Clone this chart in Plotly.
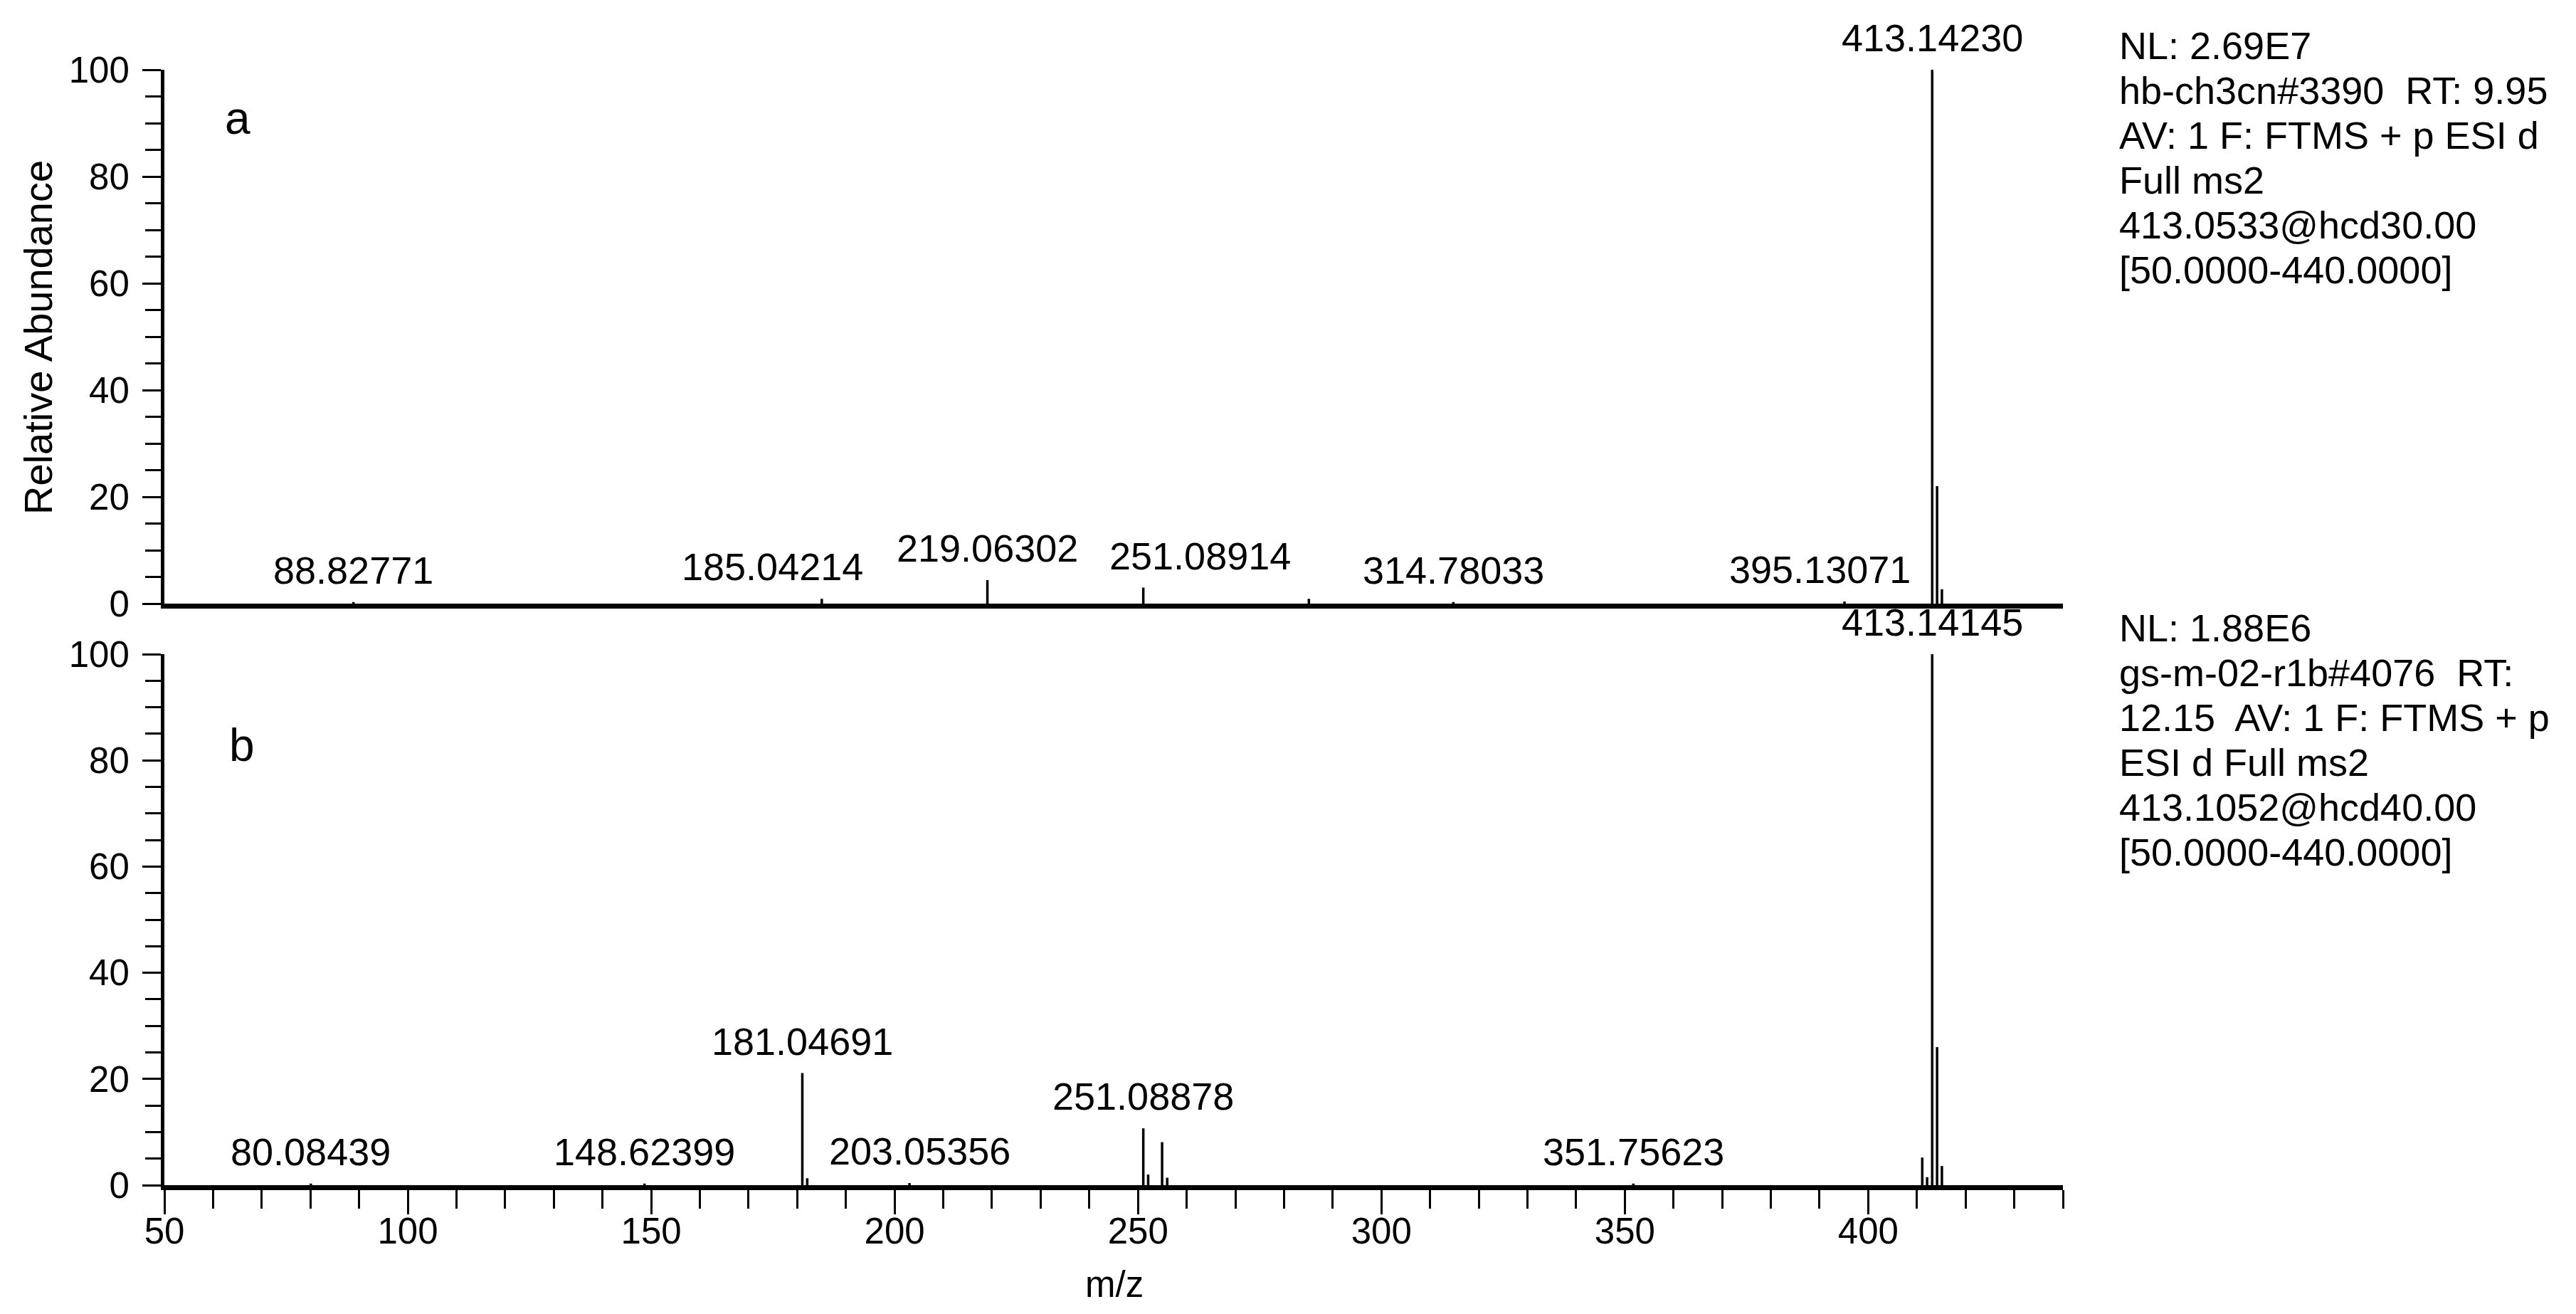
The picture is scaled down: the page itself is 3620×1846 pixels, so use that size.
import plotly.graph_objects as go

# ---------------- data ----------------
# Panel a (hb-ch3cn#3390)
mz_a = [88.82771, 185.04214, 219.06302, 251.08914, 285.10, 314.78033, 395.13071, 413.14230, 414.145, 415.14]
int_a = [0.3, 0.9, 4.4, 3.0, 0.9, 0.3, 0.4, 100.0, 22.0, 2.7]
lab_a = [88.82771, 185.04214, 219.06302, 251.08914, 314.78033, 395.13071, 413.14230]

# Panel b (gs-m-02-r1b#4076)
mz_b = [80.08439, 148.62399, 181.04691, 182.05, 203.05356, 251.08878, 252.09, 254.95, 256.0,
        351.75623, 411.10, 412.10, 413.14145, 414.145, 415.14]
int_b = [0.3, 0.3, 21.1, 1.3, 0.4, 10.7, 2.0, 8.1, 1.4, 0.3, 5.2, 1.5, 100.0, 26.0, 3.6]
lab_b = [80.08439, 148.62399, 181.04691, 203.05356, 251.08878, 351.75623, 413.14145]

info_a = ["NL: 2.69E7", "hb-ch3cn#3390  RT: 9.95", "AV: 1 F: FTMS + p ESI d", "Full ms2",
          "413.0533@hcd30.00", "[50.0000-440.0000]"]
info_b = ["NL: 1.88E6", "gs-m-02-r1b#4076  RT:", "12.15  AV: 1 F: FTMS + p", "ESI d Full ms2",
          "413.1052@hcd40.00", "[50.0000-440.0000]"]

x_ticks = [50, 100, 150, 200, 250, 300, 350, 400]
y_ticks = [0, 20, 40, 60, 80, 100]

# ---------------- style ----------------
FONT = "Liberation Sans, Arial, sans-serif"
W, H = 3620, 1846
L, R, T, B = 223, 729, 90, 189
PW = W - L - R
PH = H - T - B
YB = H - B  # pixel row of the bottom axis
# label horizontal offsets in px (label placement, not data)
label_xshift = {185.04214: -69, 251.08914: 80, 395.13071: -35, 203.05356: 14}


def stems(mz, inten):
    xs, ys = [], []
    for m, h in zip(mz, inten):
        xs += [m, m, None]
        ys += [0, h, None]
    return xs, ys


fig = go.Figure()
xa, ya = stems(mz_a, int_a)
xb, yb = stems(mz_b, int_b)
fig.add_trace(go.Scatter(x=xa, y=ya, mode="lines", xaxis="x2", yaxis="y2",
                         line=dict(color="black", width=3.5), hoverinfo="skip"))
fig.add_trace(go.Scatter(x=xb, y=yb, mode="lines", xaxis="x", yaxis="y",
                         line=dict(color="black", width=3.5), hoverinfo="skip"))

y_common = dict(range=[0, 100], tickmode="array", tickvals=y_ticks,
                showline=True, linewidth=5, linecolor="black",
                ticks="outside", ticklen=26, tickwidth=3, tickcolor="black",
                minor=dict(dtick=5, tick0=0, ticks="outside", ticklen=22, tickwidth=3,
                           tickcolor="black", showgrid=False),
                showgrid=False, zeroline=False, ticklabelstandoff=8,
                tickfont=dict(size=51, family=FONT, color="black"))

dom_b_top = (YB - 911) / PH
dom_a_bot = (YB - 840) / PH

fig.update_layout(
    width=W, height=H,
    margin=dict(l=L, r=R, t=T, b=B),
    plot_bgcolor="white", paper_bgcolor="white",
    showlegend=False,
    font=dict(family=FONT, color="black", size=51),
    xaxis=dict(domain=[0, 1], anchor="y", range=[50, 440], tickmode="array", tickvals=x_ticks,
               showline=True, linewidth=7, linecolor="black",
               ticks="outside", ticklen=34, tickwidth=3, tickcolor="black",
               minor=dict(dtick=10, tick0=50, ticks="outside", ticklen=26, tickwidth=3,
                          tickcolor="black", showgrid=False),
               showgrid=False, zeroline=False, ticklabelstandoff=-20,
               tickfont=dict(size=51, family=FONT, color="black")),
    xaxis2=dict(domain=[0, 1], anchor="y2", matches="x", range=[50, 440],
                showline=True, linewidth=7, linecolor="black", ticks="",
                showticklabels=False, showgrid=False, zeroline=False),
    yaxis=dict(domain=[0, dom_b_top], anchor="x", **y_common),
    yaxis2=dict(domain=[dom_a_bot, 1], anchor="x2", **y_common),
)

ann = []
for labs, mz, inten, xr, yr in [(lab_a, mz_a, int_a, "x2", "y2"), (lab_b, mz_b, int_b, "x", "y")]:
    for m in labs:
        h = inten[mz.index(m)]
        ann.append(dict(x=m, y=h, xref=xr, yref=yr, text=f"{m:.5f}", showarrow=False,
                        xanchor="center", yanchor="bottom", yshift=13,
                        xshift=label_xshift.get(m, 0),
                        font=dict(size=54, family=FONT, color="black")))

# panel letters
ann.append(dict(x=65.0, y=89.9, xref="x2", yref="y2", text="a", showarrow=False, yshift=8,
                xanchor="center", yanchor="middle", font=dict(size=64, family=FONT, color="black")))
ann.append(dict(x=65.9, y=81.8, xref="x", yref="y", text="b", showarrow=False, yshift=8,
                xanchor="center", yanchor="middle", font=dict(size=64, family=FONT, color="black")))

# scan info text on the right
info_x = (2968 - L) / PW
for lines, y0 in [(info_a, 56), (info_b, 874)]:
    for i, t in enumerate(lines):
        py = y0 + i * 63
        ann.append(dict(x=info_x, y=(YB - py) / PH, xref="paper", yref="paper",
                        text=t.replace("  ", "\u00a0 "), showarrow=False,
                        xanchor="left", yanchor="middle",
                        font=dict(size=54, family=FONT, color="black")))

# axis titles
ann.append(dict(x=(46 - L) / PW, y=(YB - 466) / PH, xref="paper", yref="paper",
                text="Relative Abundance", textangle=-90, showarrow=False,
                xanchor="center", yanchor="middle", font=dict(size=56, family=FONT, color="black")))
ann.append(dict(x=(1558 - L) / PW, y=(YB - 1797) / PH, xref="paper", yref="paper",
                text="m/z", showarrow=False, xanchor="center", yanchor="middle",
                font=dict(size=51, family=FONT, color="black")))

fig.update_layout(annotations=ann)
fig.write_html("out.html")
